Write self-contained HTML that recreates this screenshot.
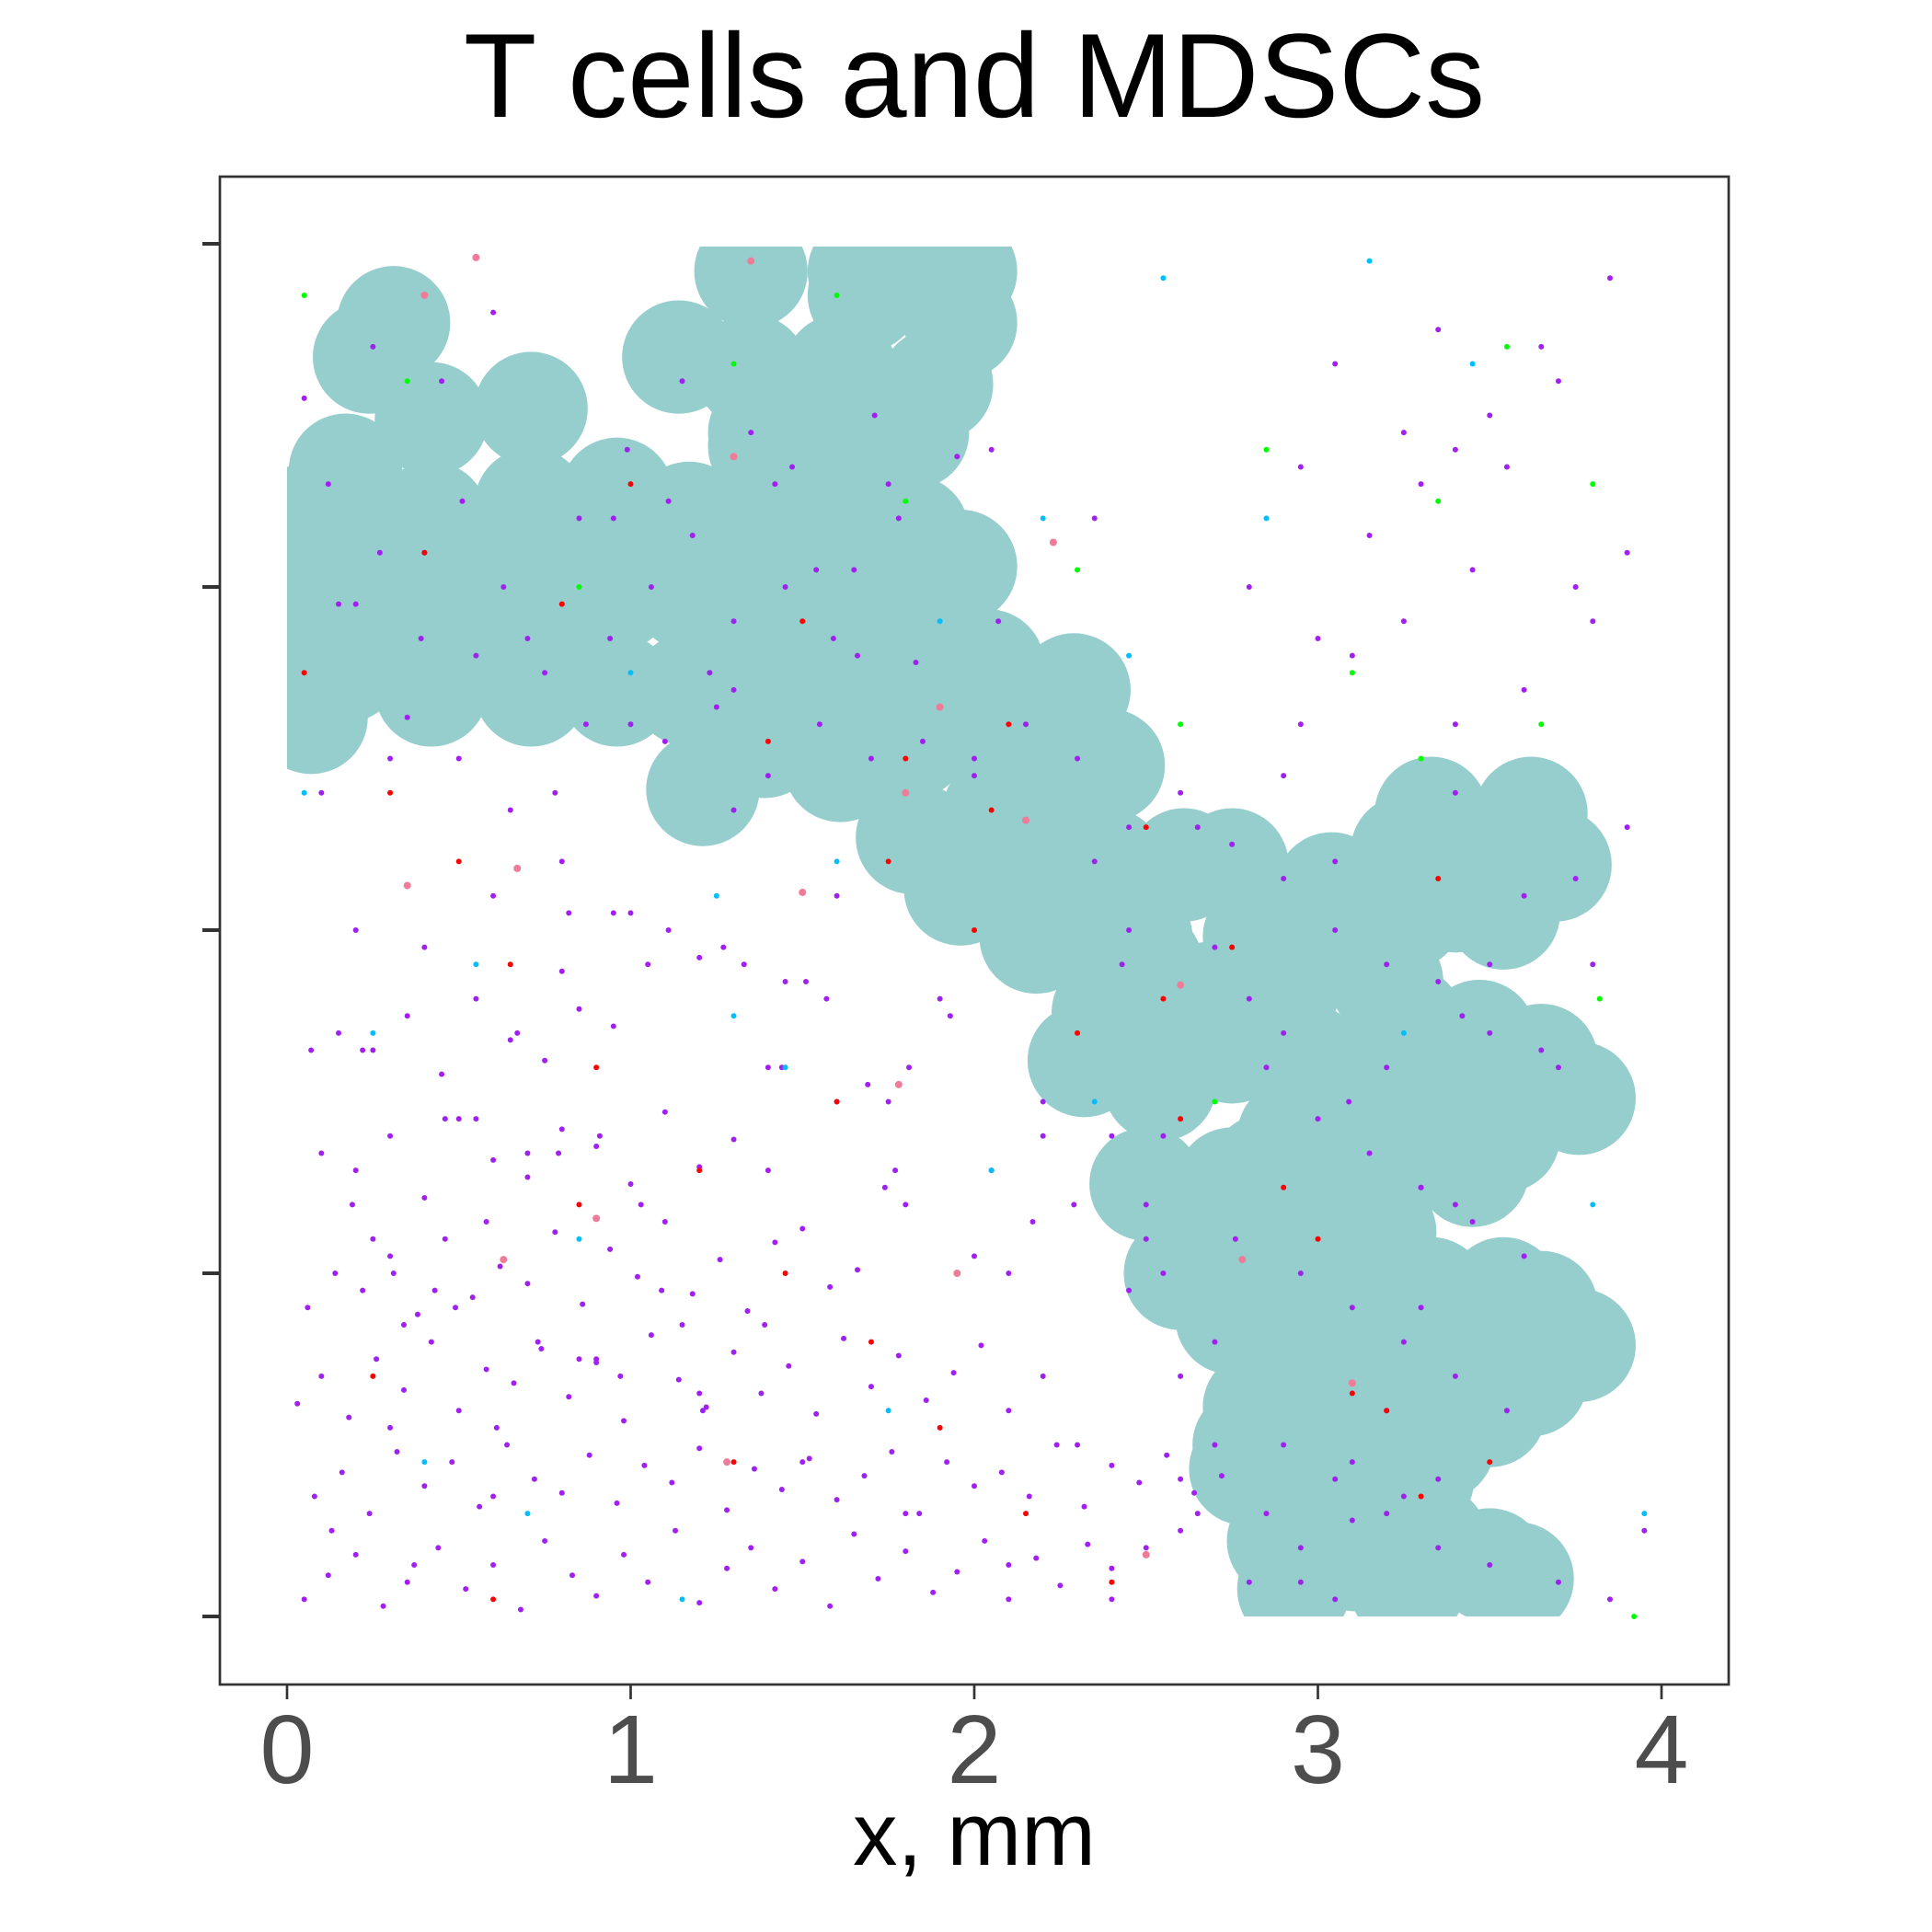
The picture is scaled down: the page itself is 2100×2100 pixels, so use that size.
<!DOCTYPE html>
<html><head><meta charset="utf-8"><style>
html,body{margin:0;padding:0;background:#fff;}
svg{display:block;}
</style></head><body>
<svg id="chart" width="2100" height="2100" viewBox="0 0 2100 2100" xmlns="http://www.w3.org/2000/svg">
<defs><clipPath id="dataclip"><rect x="312" y="268" width="1494" height="1489"/></clipPath></defs>
<rect x="0" y="0" width="2100" height="2100" fill="#fff"/>
<text x="1059" y="127" font-family="Liberation Sans, sans-serif" font-size="130" text-anchor="middle" fill="#000">T cells and MDSCs</text>
<g id="blob" clip-path="url(#dataclip)"></g>
<g id="pts"></g>
<rect x="239" y="192" width="1640" height="1639" fill="none" stroke="#333" stroke-width="2.7"/>
<g id="axes"></g>
<text x="1059" y="2027" font-family="Liberation Sans, sans-serif" font-size="97" text-anchor="middle" fill="#000">x, mm</text>
</svg>
<script>
const xTicks=[0,1,2,3,4];
const yTicks=[0,1,2,3,4];
const blobX=[.17,.17,.17,.42,.42,.42,.42,.71,.71,.71,.71,.96,.96,.96,1.17,1.17,1.17,1.39,1.39,1.39,1.39,1.21,1.61,1.61,1.61,1.61,1.61,1.82,1.82,1.82,1.82,1.82,1.96,2.04,2.14,2.29,2.25,2.39,2.07,1.96,2.18,2.39,2.47,2.61,2.75,2.83,2.61,2.39,2.32,2.54,2.75,2.90,2.97,3.04,3.26,3.33,3.62,3.69,3.54,3.26,3.11,3.26,3.47,3.65,3.76,3.54,3.33,3.11,2.93,3.11,2.50,2.75,2.68,2.90,3.18,3.33,3.54,3.65,3.76,3.62,3.40,2.75,2.97,3.18,2.83,3.04,3.26,2.79,3.01,3.29,2.90,3.11,3.33,3.58,2.93,3.26,.24,.31,1.14,1.35,1.35,1.82,1.96,1.89,1.68,1.39,.07,1.68,1.96,
 .07,.07,.07,.28,.28,.56,.56,.85,.85,1.07,1.28,1.5,1.5,1.71,1.71,1.93,2.1,2.2,2.5,2.68,2.85,3.2,3.4,3.55,3.0,3.15,2.85,3.0,3.2,3.45,2.85,3.0,3.15,3.0,3.2,3.5,2.6,2.8,3.1,3.35,3.5];
const blobY=[3.34,3.06,2.77,3.49,3.20,2.91,2.70,3.52,3.24,2.95,2.70,3.27,2.98,2.70,3.20,2.98,2.70,3.41,3.13,2.84,2.55,2.41,3.63,3.34,3.06,2.77,2.48,3.45,3.16,2.88,2.55,2.27,3.06,2.77,2.55,2.70,2.41,2.48,2.34,2.12,1.98,2.19,1.98,2.19,2.19,1.98,1.76,1.76,1.62,1.55,1.66,1.83,1.62,2.12,2.23,2.34,2.34,2.19,2.05,2.05,1.98,1.73,1.69,1.62,1.51,1.40,1.48,1.48,1.40,1.26,1.26,1.26,1.08,1.08,1.12,.94,.94,.90,.79,.69,.72,.87,.83,.76,.61,.58,.54,.43,.36,.40,.22,.18,.22,.11,.08,.08,3.67,3.77,3.67,3.92,3.63,3.92,3.77,3.59,3.85,3.45,2.62,3.92,3.92,
 3.2,3.0,2.85,3.1,2.85,3.05,2.8,3.1,2.85,3.05,2.9,3.25,2.65,3.2,2.65,2.65,2.5,2.2,1.9,1.8,1.75,1.85,2.1,2.25,1.55,1.55,1.3,1.35,1.3,1.3,1.0,1.0,1.0,.65,.6,.6,1.0,.5,.5,.5,.15];
const blobR=0.165;
const purpleX=[.05,.12,.2,.28,.35,.44,.52,.6,.68,.75,.83,.9,.98,1.05,1.13,1.2,1.28,1.35,1.42,1.5,1.58,1.65,1.72,1.8,1.88,1.95,2.03,2.1,2.18,2.25,2.33,2.4,.08,.16,.24,.32,.4,.48,.56,.64,.72,.8,.88,.96,1.04,1.12,1.2,1.28,1.36,1.44,1.52,1.6,1.68,1.76,1.84,1.92,2.0,2.08,2.16,2.24,2.32,2.4,2.48,2.56,2.64,2.72,.03,.1,.18,.26,.34,.42,.5,.58,.66,.74,.82,.9,.98,1.06,1.14,1.22,1.3,1.38,1.46,1.54,1.62,1.7,1.78,1.86,1.94,2.02,2.1,.06,.14,.22,.3,.38,.46,.54,.62,.7,.78,.86,.94,1.02,1.1,1.18,1.26,1.34,1.42,1.5,1.58,1.66,1.74,.1,.2,.3,.4,.5,.6,.7,.8,.9,1.0,1.1,1.2,1.3,1.4,.15,.25,.35,.45,.55,.65,.75,.85,.95,1.05,.2,.4,.6,.8,1.0,1.2,1.4,1.6,1.8,2.0,2.2,2.45,2.6,2.7,2.85,2.95,3.05,3.2,3.35,3.5,3.7,3.85,3.95,2.5,2.8,3.1,3.4,3.6,3.8,3.9,3.3,3.5,3.65,3.85,.3,.55,.85,1.15,1.45,1.75,2.05,2.35,2.65,2.95,3.25,3.55,.4,.7,1.0,1.3,1.6,1.9,2.2,2.5,2.8,3.1,3.4,3.7,.25,.6,.95,1.3,1.65,2.0,2.35,2.7,3.05,3.4,3.75,.12,.45,.78,1.11,1.44,1.77,2.1,2.43,2.76,3.09,3.42,3.75,2.9,3.0,3.15,3.25,3.35,3.45,2.95,3.05,3.2,3.3,3.4,2.3,2.4,2.55,2.65,2.2,2.5,2.6,2.7,2.8,3.6,3.7,3.8,3.9,2.45,2.55,2.9,3.3,3.5,
 .1,.22,.34,.46,.58,.7,.82,.94,1.06,1.18,1.3,1.42,1.54,1.66,1.78,.15,.27,.39,.51,.63,.75,.87,.99,1.11,1.23,1.35,1.47,1.59,1.71,1.83,1.95,2.07,.05,.2,.35,.5,.65,.8,.95,1.1,1.25,1.4,1.55,1.7,1.85,2.0,2.15,2.3,2.45,2.6,2.75,2.9,3.05,3.2,3.35,3.5,3.65,2.85,3.0,3.15,3.3,3.45,3.6,2.95,3.1,3.25,3.4,3.55,2.9,3.05,3.2,3.35,2.95,3.1,3.25,.13,.37,.61,.85,1.09,1.33,1.57,1.81,2.05,2.29,.25,.49,.73,.97,1.21,1.45,1.69,1.93,2.17,.07,.31,.55,.79,1.03,1.27,1.51,1.75,.19,.43,.67,.91,1.15,1.39,.3,.6,.9,1.2,1.5,1.8,2.1,2.4,2.6];
const purpleY=[.05,.12,.18,.03,.1,.2,.08,.15,.02,.22,.12,.06,.18,.1,.25,.04,.14,.2,.08,.16,.03,.24,.11,.19,.07,.13,.22,.05,.17,.09,.21,.14,.35,.42,.3,.48,.38,.45,.32,.5,.4,.36,.47,.33,.44,.39,.49,.31,.43,.37,.46,.34,.41,.48,.3,.45,.38,.42,.35,.5,.32,.44,.39,.47,.36,.41,.62,.7,.58,.75,.66,.8,.6,.72,.68,.78,.64,.74,.57,.82,.69,.61,.77,.65,.73,.59,.81,.67,.76,.63,.71,.79,.6,.9,1.0,.95,1.05,.88,1.1,.93,1.02,.97,1.12,.91,1.07,.99,1.15,.94,1.04,.89,1.09,1.13,.96,1.01,1.25,1.35,1.3,1.4,1.22,1.45,1.33,1.28,1.42,1.37,1.26,1.47,1.31,1.39,1.6,1.7,1.65,1.75,1.58,1.8,1.68,1.62,1.77,1.72,1.9,2.0,1.95,2.1,1.88,2.05,1.92,1.3,1.5,1.2,1.05,1.4,.95,.7,.5,.3,.2,.05,1.6,.4,.15,.1,.05,.25,.2,.1,.28,2.4,2.7,2.9,3.1,3.3,3.5,3.7,3.9,2.5,2.8,3.2,3.6,3.0,3.3,3.4,3.2,2.3,2.6,2.9,3.35,3.1,2.85,2.6,2.35,2.1,1.8,1.5,1.2,3.0,2.8,3.4,3.6,3.7,3.8,3.2,2.7,3.05,2.5,2.2,1.95,2.2,2.6,3.0,3.3,3.6,2.4,2.0,1.6,1.3,1.0,1.9,1.1,1.5,1.75,2.15,2.45,2.85,3.15,3.45,3.75,3.05,3.35,3.65,.6,.9,1.2,.5,1.4,1.0,.3,.7,1.1,.4,.8,1.8,2.1,1.6,1.9,2.3,2.0,1.4,1.7,1.25,1.9,2.4,1.65,.85,1.45,1.15,1.35,2.05,
 2.85,3.0,3.15,2.9,3.3,3.05,2.8,3.2,2.95,3.1,2.85,3.25,3.0,2.75,2.6,3.4,3.25,2.75,3.45,3.35,2.85,3.5,2.78,3.38,2.9,3.55,2.95,2.62,2.5,2.35,2.2,2.05,2.55,2.65,2.45,2.6,2.5,2.55,2.45,2.6,2.5,2.3,2.4,2.25,2.15,2.0,1.9,1.85,1.7,1.65,1.6,1.45,1.35,1.25,1.15,1.05,1.0,.9,.8,.7,.6,.5,.4,.3,.2,.1,.45,.35,.25,.15,.55,.75,.95,1.9,1.8,1.6,1.3,1.2,1.1,.9,.8,.7,.6,1.85,1.55,1.75,1.15,1.65,1.0,1.45,1.35,1.2,1.95,1.85,1.5,1.2,.95,1.7,1.4,.85,.85,.55,.35,.75,.65,.45,.3,.15,.05,.25,.35,.6,.85];
const redX=[.05,.3,.5,.65,.9,1.2,1.45,1.7,1.9,2.15,2.4,.25,.6,.85,1.3,1.6,2.0,2.3,2.6,2.9,3.1,3.35,.4,1.0,1.5,1.8,2.1,2.5,2.75,3.2,3.5,.8,1.4,1.75,2.05,2.55,3.0,3.3];
const redY=[2.75,2.4,2.2,1.9,1.6,1.3,1.0,.8,.55,.3,.1,.7,.05,1.2,.45,1.5,2.0,1.7,1.45,1.25,.65,2.15,3.1,3.3,2.9,2.5,2.6,2.3,1.95,.6,.45,2.95,2.55,2.2,2.35,1.8,1.1,.35];
const blueX=[.05,.25,.55,.85,1.15,1.45,1.75,2.05,2.35,.4,.7,1.0,1.3,1.6,1.9,2.2,2.55,2.85,3.15,3.45,3.8,3.95,1.25,2.45,3.25];
const blueY=[2.4,1.7,1.9,1.1,.05,1.6,.6,1.3,1.5,.45,.3,2.75,1.75,2.2,2.9,3.2,3.9,3.2,3.95,3.65,1.2,.3,2.1,2.8,1.7];
const greenX=[.05,.35,.85,1.3,1.6,1.8,2.3,2.6,2.85,3.1,3.35,3.55,3.8,3.82,3.65,2.7,3.3,3.92];
const greenY=[3.85,3.6,3.0,3.65,3.85,3.25,3.05,2.6,3.4,2.75,3.25,3.7,3.3,1.8,2.6,1.5,2.5,0.0];
const pinkX=[.4,.55,.35,.67,.9,.63,1.28,1.3,1.5,1.35,1.8,1.9,2.15,2.23,1.95,2.5,2.6,2.78,3.1,1.78];
const pinkY=[3.85,3.96,2.13,2.18,1.16,1.04,.45,3.38,2.11,3.95,2.4,2.65,2.32,3.13,1.0,.18,1.84,1.04,.68,1.55];

const X0=312,X1=1806,Y0=1757,Y1=265;
function sx(v){return X0+v*(X1-X0)/4;}
function sy(v){return Y0-v*(Y0-Y1)/4;}
const NS="http://www.w3.org/2000/svg";
const blob=document.getElementById('blob');
for(let i=0;i<blobX.length;i++){
  const c=document.createElementNS(NS,'circle');
  c.setAttribute('cx',sx(blobX[i]));c.setAttribute('cy',sy(blobY[i]));
  c.setAttribute('r',blobR*(X1-X0)/4);c.setAttribute('fill','#96cdcd');
  
  
  blob.appendChild(c);
}
const pts=document.getElementById('pts');
function drawPts(xs,ys,col,r,name){
  for(let i=0;i<xs.length;i++){
    const c=document.createElementNS(NS,'circle');
    c.setAttribute('cx',sx(xs[i]));c.setAttribute('cy',sy(ys[i]));
    c.setAttribute('r',r);c.setAttribute('fill',col);
    
    
    pts.appendChild(c);
  }
}
drawPts(purpleX,purpleY,'#a020f0',3,'purple-cell-point');
drawPts(redX,redY,'#ff0000',3,'red-cell-point');
drawPts(blueX,blueY,'#00bfff',3,'blue-cell-point');
drawPts(greenX,greenY,'#00ff00',3,'green-cell-point');
drawPts(pinkX,pinkY,'#ee7c98',4,'pink-cell-point');
const axes=document.getElementById('axes');
for(const t of xTicks){
  const l=document.createElementNS(NS,'line');
  l.setAttribute('x1',sx(t));l.setAttribute('x2',sx(t));l.setAttribute('y1',1832);l.setAttribute('y2',1847);
  l.setAttribute('stroke','#333');l.setAttribute('stroke-width','2.7');
  
  
  axes.appendChild(l);
  const tx=document.createElementNS(NS,'text');
  tx.setAttribute('x',sx(t));tx.setAttribute('y',1938);tx.setAttribute('text-anchor','middle');
  tx.setAttribute('font-family','Liberation Sans, sans-serif');tx.setAttribute('font-size','106');tx.setAttribute('fill','#4d4d4d');
  tx.textContent=t;
  
  
  axes.appendChild(tx);
}
for(const t of yTicks){
  const l=document.createElementNS(NS,'line');
  l.setAttribute('x1',220);l.setAttribute('x2',239);l.setAttribute('y1',sy(t));l.setAttribute('y2',sy(t));
  l.setAttribute('stroke','#333');l.setAttribute('stroke-width','4');
  
  
  axes.appendChild(l);
}
</script>
</body></html>
